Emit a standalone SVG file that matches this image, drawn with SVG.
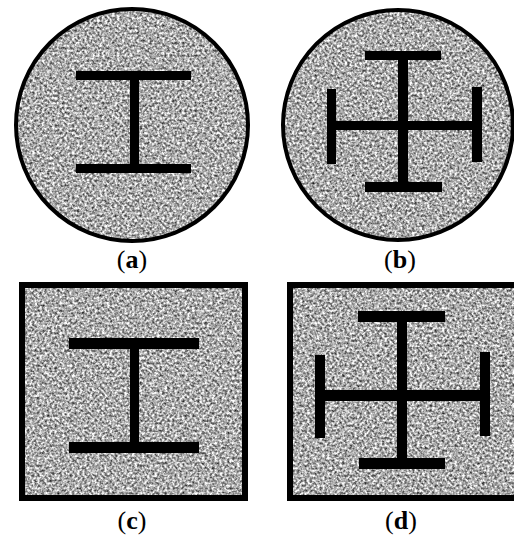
<svg xmlns="http://www.w3.org/2000/svg" width="514" height="538" viewBox="0 0 514 538">
  <style>
    .bar { fill: #000; }
    .edge { fill: none; stroke: #000; }
    .lbl { font-family: "Liberation Serif", "DejaVu Serif", serif; font-size: 26px; fill: #000; text-anchor: middle; }
    .b { font-weight: bold; }
  </style>
  <defs>
    <filter id="noise" x="0" y="0" width="100%" height="100%" color-interpolation-filters="sRGB">
      <feTurbulence type="fractalNoise" baseFrequency="0.4" numOctaves="2" seed="7" result="t"/>
      <feColorMatrix in="t" type="matrix" values="1.4 0 0 0 -0.03  1.4 0 0 0 -0.03  1.4 0 0 0 -0.03  0 0 0 0 1" result="g"/>
      <feComposite in="g" in2="SourceGraphic" operator="in"/>
    </filter>
  </defs>
  <rect width="514" height="538" fill="#fff"/>

  <g id="panel-a">
    <circle cx="132" cy="125" r="117" fill="#000" filter="url(#noise)"/>
    <circle class="edge" cx="132" cy="125" r="116" stroke-width="4"/>
    <rect class="bar" x="76" y="71" width="115" height="9"/>
    <rect class="bar" x="76" y="164" width="115" height="9"/>
    <rect class="bar" x="130" y="78" width="9" height="88"/>
    <text class="lbl" x="132" y="268">(<tspan class="b">a</tspan>)</text>
  </g>

  <g id="panel-b">
    <circle cx="398" cy="125" r="116" fill="#000" filter="url(#noise)"/>
    <circle class="edge" cx="398" cy="125" r="115" stroke-width="4"/>
    <rect class="bar" x="365" y="51" width="76" height="9"/>
    <rect class="bar" x="365" y="182" width="77" height="10"/>
    <rect class="bar" x="398" y="58" width="10" height="126"/>
    <rect class="bar" x="334" y="121" width="140" height="9"/>
    <rect class="bar" x="327" y="89" width="9" height="75"/>
    <rect class="bar" x="472" y="87" width="10" height="75"/>
    <text class="lbl" x="400" y="268">(<tspan class="b">b</tspan>)</text>
  </g>

  <g id="panel-c">
    <rect x="22" y="285" width="223" height="213" fill="#000" filter="url(#noise)"/>
    <rect class="edge" x="22" y="285" width="223" height="213" stroke-width="6"/>
    <rect class="bar" x="69" y="338" width="130" height="11"/>
    <rect class="bar" x="69" y="442" width="130" height="11"/>
    <rect class="bar" x="130" y="347" width="9" height="97"/>
    <text class="lbl" x="132" y="529">(<tspan class="b">c</tspan>)</text>
  </g>

  <g id="panel-d">
    <rect x="290" y="285" width="240" height="213" fill="#000" filter="url(#noise)"/>
    <rect class="edge" x="290" y="285" width="240" height="213" stroke-width="6"/>
    <rect class="bar" x="358" y="311" width="87" height="11"/>
    <rect class="bar" x="359" y="458" width="86" height="11"/>
    <rect class="bar" x="397" y="320" width="10" height="140"/>
    <rect class="bar" x="323" y="390" width="159" height="11"/>
    <rect class="bar" x="315" y="355" width="10" height="83"/>
    <rect class="bar" x="480" y="352" width="10" height="84"/>
    <text class="lbl" x="401" y="529">(<tspan class="b">d</tspan>)</text>
  </g>
</svg>
